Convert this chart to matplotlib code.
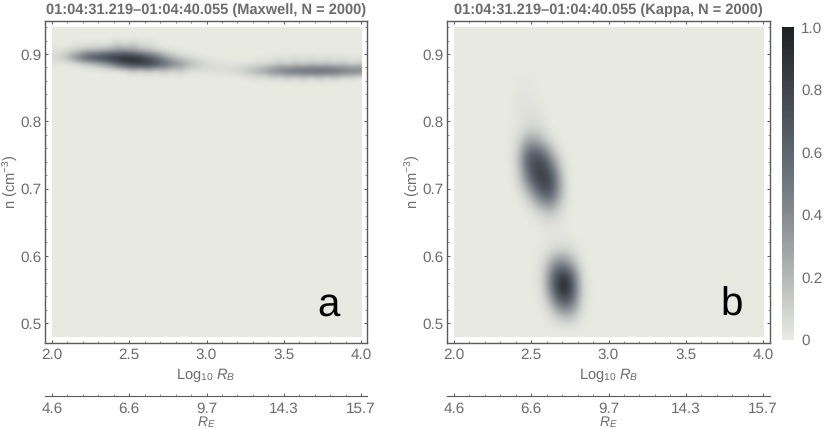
import numpy as np
import matplotlib
matplotlib.use("Agg")
import matplotlib.pyplot as plt
from matplotlib.colors import LinearSegmentedColormap

plt.rcParams["font.family"] = "Liberation Sans"
plt.rcParams["mathtext.fontset"] = "custom"
plt.rcParams["mathtext.rm"] = "Liberation Sans"
plt.rcParams["mathtext.it"] = "Liberation Sans:italic"
plt.rcParams["text.hinting"] = "none"

W, H = 830, 429
GREY = "#6c6c6c"
FRAME = "#5a5a5a"

titles = ["01:04:31.219–01:04:40.055 (Maxwell, N = 2000)",
          "01:04:31.219–01:04:40.055 (Kappa, N = 2000)"]
letters = ["a", "b"]

rb_ticks = [2.0, 2.5, 3.0, 3.5, 4.0]
re_labels = ["4.6", "6.6", "9.7", "14.3", "15.7"]
n_ticks = [0.5, 0.6, 0.7, 0.8, 0.9]

# maxwell panel, cells 0.05 wide in x and 0.01 high in n
maxwell_rows = [0.915, 0.905, 0.895, 0.885, 0.875, 0.865]
maxwell_z = [
    [0, 0, 0, .03, .01, .03, .01, .03, .14, .02, .15, .02, .08, .01, 0, 0, 0, 0, 0, 0,
     0, 0, 0, 0, 0, 0, 0, 0, 0, 0, 0, 0, 0, 0, 0, 0, 0, 0, 0, 0],
    [.03, .05, .09, .12, .20, .18, .25, .26, .34, .33, .30, .22, .16, .10, .06, .03, .01, 0, 0, 0,
     0, 0, 0, 0, 0, 0, 0, 0, 0, 0, 0, 0, 0, 0, 0, 0, 0, 0, 0, 0],
    [.08, .14, .30, .50, .70, .80, .85, .95, .97, 1.0, .95, .85, .70, .55, .35, .20, .12, .07, .04, .02,
     .01, 0, 0, 0, 0, 0, .01, .01, .02, .05, .01, .06, .01, .06, .01, .06, .01, .05, .01, .03],
    [.01, .01, .02, .05, .10, .16, .26, .40, .60, .75, .85, .90, .85, .75, .60, .50, .35, .25, .17, .10,
     .06, .05, .04, .03, .03, .04, .05, .06, .08, .14, .08, .16, .09, .17, .10, .17, .10, .16, .08, .12],
    [0, 0, 0, 0, 0, 0, 0, 0, 0, .03, .13, .02, .16, .02, .17, .03, .16, .03, .05, .04,
     .05, .05, .06, .08, .12, .18, .25, .33, .42, .50, .56, .60, .63, .65, .66, .65, .62, .58, .52, .50],
    [0, 0, 0, 0, 0, 0, 0, 0, 0, 0, 0, 0, 0, 0, 0, 0, 0, 0, 0, 0,
     0, 0, 0, 0, .01, .02, .06, .01, .11, .03, .14, .03, .15, .03, .15, .03, .13, .02, .07, .01],
]

# kappa panel, cells 0.05 wide in x and 0.02 high in n
kappa_cols = [2.325, 2.375, 2.425, 2.475, 2.525, 2.575, 2.625, 2.675, 2.725, 2.775, 2.825, 2.875]
kappa_rows = [.87, .85, .83, .81, .79, .77, .75, .73, .71, .69, .67, .65, .63, .61, .59, .57, .55, .53, .51]
kappa_z = [
    [0, 0, .01, .01, .01, 0, 0, 0, 0, 0, 0, 0],
    [0, 0, .02, .02, .01, 0, 0, 0, 0, 0, 0, 0],
    [0, .01, .03, .03, .02, .01, 0, 0, 0, 0, 0, 0],
    [0, .01, .03, .05, .04, .02, 0, 0, 0, 0, 0, 0],
    [0, .01, .03, .07, .08, .05, .01, 0, 0, 0, 0, 0],
    [0, .02, .10, .28, .30, .18, .06, .01, 0, 0, 0, 0],
    [0, .03, .20, .62, .72, .60, .30, .08, .01, 0, 0, 0],
    [0, .02, .17, .60, .82, .85, .62, .22, .03, 0, 0, 0],
    [0, .01, .10, .38, .70, .85, .78, .35, .05, 0, 0, 0],
    [0, 0, .03, .12, .35, .60, .62, .30, .05, 0, 0, 0],
    [0, 0, 0, .02, .07, .15, .20, .10, .02, 0, 0, 0],
    [0, 0, 0, 0, .01, .03, .04, .03, .01, 0, 0, 0],
    [0, 0, 0, 0, 0, .01, .02, .02, .01, 0, 0, 0],
    [0, 0, 0, 0, .01, .02, .04, .07, .07, .04, .01, 0],
    [0, 0, 0, 0, .01, .06, .25, .40, .35, .18, .03, 0],
    [0, 0, 0, 0, .02, .10, .45, .85, .90, .50, .08, .01],
    [0, 0, 0, 0, .01, .08, .42, .90, 1.0, .60, .10, .01],
    [0, 0, 0, 0, 0, .03, .18, .48, .62, .40, .08, .01],
    [0, 0, 0, 0, 0, .01, .04, .10, .16, .12, .03, 0],
]

cmap = LinearSegmentedColormap.from_list("gr", [
    (0.0, "#e8e9e1"), (0.1, "#cfd1cd"), (0.2, "#b4b7b6"), (0.4, "#858b90"),
    (0.6, "#5d6570"), (0.8, "#41464c"), (1.0, "#1f2022")])


def maxwell_grid():
    z = np.zeros((46, 40))
    for n, row in zip(maxwell_rows, maxwell_z):
        z[int((n - 0.48) / 0.01), :] = row
    return z


def kappa_grid():
    z = np.zeros((23, 40))
    for n, row in zip(kappa_rows, kappa_z):
        i = int((n - 0.48) / 0.02)
        j = int((kappa_cols[0] - 2.0) / 0.05)
        z[i, j:j + len(row)] = row
    return z


def add_axes(x0, x1, y0, y1):
    return fig.add_axes([x0 / W, 1 - y1 / H, (x1 - x0) / W, (y1 - y0) / H])


fig = plt.figure(figsize=(W / 100, H / 100), dpi=100)

panels = [(45, 367, 52, 361), (447, 770, 454, 763)]
grids = [maxwell_grid(), kappa_grid()]

for k in range(2):
    fx0, fx1, ix0, ix1 = panels[k]
    ax = add_axes(fx0, fx1, 20.5, 342.7)
    scale = (ix1 - ix0) / 2.0
    xlim = (2.0 - (ix0 - fx0) / scale, 4.0 + (fx1 - ix1) / scale)
    im = ax.imshow(grids[k], origin="lower", extent=[2.0, 4.0, 0.48, 0.94],
                   cmap=cmap, vmin=0, vmax=1, aspect="auto", interpolation="bicubic")
    ax.set_xlim(xlim)
    ax.set_ylim(0.4711, 0.9498)
    ax.set_xticks(rb_ticks)
    ax.set_xticklabels(["%.1f" % v for v in rb_ticks])
    ax.set_yticks(n_ticks)
    ax.set_xticks(np.arange(2.0, 4.01, 0.1), minor=True)
    ax.set_yticks(np.arange(0.5, 0.941, 0.02), minor=True)
    ax.tick_params(which="major", direction="in", top=True, right=True, length=2.5, width=0.7,
                   color=FRAME, labelcolor=GREY, labelsize=11)
    ax.tick_params(axis="y", which="major", pad=2.5)
    ax.tick_params(axis="x", which="major", pad=4)
    ax.tick_params(which="minor", direction="in", top=True, right=True, length=1.3, width=0.5, color=FRAME)
    for s in ax.spines.values():
        s.set_color(FRAME)
        s.set_linewidth(1.0)
    ax.set_xlabel(r"Log$_{10}$ $R_B$", color=GREY, fontsize=10.5, labelpad=3)
    ax.set_ylabel(r"n (cm$^{-3}$)", color=GREY, fontsize=10.5)
    ax.yaxis.set_label_coords(-25.0 / (fx1 - fx0), 0.5)
    ax.set_title(titles[k], color=GREY, fontsize=10.5, fontweight="bold", pad=5)
    ax.text(0.88, 0.115, letters[k], transform=ax.transAxes, color="black",
            fontsize=29, ha="center", va="center")

    # second scale under the panel
    ax2 = add_axes(fx0, fx1, 396.3, 396.4)
    ax2.set_xlim(xlim)
    ax2.set_yticks([])
    for name in ["top", "left", "right"]:
        ax2.spines[name].set_visible(False)
    ax2.spines["bottom"].set_color(FRAME)
    ax2.set_xticks(rb_ticks)
    ax2.set_xticklabels(re_labels)
    ax2.set_xticks(np.arange(2.0, 4.01, 0.1), minor=True)
    ax2.tick_params(which="major", direction="in", length=2.5, width=0.7, color=FRAME,
                    labelcolor=GREY, labelsize=11, pad=4)
    ax2.tick_params(which="minor", direction="in", length=1.3, width=0.5, color=FRAME)
    ax2.set_xlabel(r"$R_E$", color=GREY, fontsize=10, labelpad=-1.5)

cax = add_axes(782, 794, 27, 339.5)
cb = fig.colorbar(im, cax=cax)
cb.set_ticks([0, 0.2, 0.4, 0.6, 0.8, 1.0])
cb.set_ticklabels(["0", "0.2", "0.4", "0.6", "0.8", "1.0"])
cb.ax.tick_params(length=0, labelcolor=GREY, labelsize=11, pad=5)
cb.outline.set_visible(False)

fig.savefig("out.png", dpi=100)
